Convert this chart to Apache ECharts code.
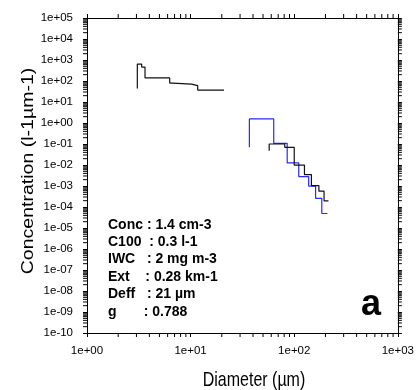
<!DOCTYPE html>
<html>
<head>
<meta charset="utf-8">
<script src="https://cdn.jsdelivr.net/npm/echarts@6/dist/echarts.min.js"></script>
<style>
html, body { margin: 0; padding: 0; background: #fff; }
#main { width: 417px; height: 390px; }
</style>
</head>
<body>
<div id="main"></div>
<script>
// small particles (black, left)
var smallEdges = [3.06, 3.37, 3.63, 6.28, 6.7, 10.2, 11.7, 21];
var smallStart = 44;
var smallConc = [637, 460, 140, 80, 71, 60, 37];

// large particles, probe 1 (black, right)
var largeEdges = [57.3, 81, 100, 125.5, 146.5, 173, 194, 214];
var largeStart = 0.048;
var largeConc = [0.1, 0.0695, 0.0099, 0.0035, 0.00105, 0.00057, 0.000197];

// large particles, probe 2 (blue)
var blueEdges = [36.9, 63.4, 85.5, 110.6, 137.8, 160.7, 184.5, 209];
var blueStart = 0.07;
var blueConc = [1.56, 0.108, 0.0125, 0.0028, 0.00099, 0.00026, 0.000049];

var infoLines = [
    'Conc : 1.4 cm-3',
    'C100  : 0.3 l-1',
    'IWC   : 2 mg m-3',
    'Ext    : 0.28 km-1',
    'Deff   : 21 \u00b5m',
    'g       : 0.788'
];

var xMin = 1, xMax = 1000, yMin = 1e-10, yMax = 1e5;

function stepPoints(edges, start, conc) {
    var pts = [[edges[0], start]];
    for (var i = 0; i < conc.length; i++) {
        pts.push([edges[i], conc[i]]);
        pts.push([edges[i + 1], conc[i]]);
    }
    return pts;
}

function expLabel(v) {
    var e = Math.round(Math.log10(v));
    var a = Math.abs(e);
    return '1e' + (e < 0 ? '-' : '+') + (a < 10 ? '0' : '') + a;
}

// minor tick positions 2..9 per decade
function minorTicks(lo, hi) {
    var out = [];
    for (var k = lo; k < hi; k++) {
        for (var m = 2; m <= 9; m++) out.push(m * Math.pow(10, k));
    }
    return out;
}
var xMinor = minorTicks(0, 3).map(function (d) { return [d, yMin]; });
var yMinor = minorTicks(-10, 5).map(function (c) { return [xMin, c]; });

var chart = echarts.init(document.getElementById('main'));

var labelStyle = { color: '#000', fontSize: 11.5, fontFamily: 'Arial, Liberation Sans' };
var lineAx = { show: true, lineStyle: { color: '#000', width: 1 } };
var tickAx = { show: true, inside: false, length: 4, lineStyle: { color: '#000', width: 1 } };

var option = {
    animation: false,
    grid: { left: 87, right: 15, top: 18, bottom: 57 },
    xAxis: [{
        type: 'log', logBase: 10, min: xMin, max: xMax, interval: 1,
        axisLine: lineAx, axisTick: tickAx, splitLine: { show: false },
        axisLabel: Object.assign({ margin: 12, formatter: expLabel }, labelStyle)
    }, {
        type: 'log', logBase: 10, min: xMin, max: xMax, interval: 1, position: 'top',
        axisLine: lineAx, axisTick: tickAx, splitLine: { show: false },
        axisLabel: { show: false }
    }],
    yAxis: [{
        type: 'log', logBase: 10, min: yMin, max: yMax, interval: 1,
        axisLine: lineAx, axisTick: tickAx, splitLine: { show: false },
        axisLabel: Object.assign({ margin: 14, padding: [0, 0, 6, 0], formatter: expLabel }, labelStyle)
    }, {
        type: 'log', logBase: 10, min: yMin, max: yMax, interval: 1, position: 'right',
        axisLine: lineAx, axisTick: tickAx, splitLine: { show: false },
        axisLabel: { show: false }
    }],
    graphic: [{
        type: 'text', left: 108, top: 216,
        style: {
            text: infoLines.join('\n'), fill: '#000', lineHeight: 17.4,
            font: 'bold 14px Arial, Liberation Sans'
        }
    }, {
        type: 'text', x: 371, y: 305,
        style: {
            text: 'a', fill: '#000', align: 'center', verticalAlign: 'middle',
            font: 'bold 36px Arial, Liberation Sans'
        }
    }, {
        type: 'text', x: 254, y: 381, scaleY: 1.22,
        style: {
            text: 'Diameter (\u00b5m)', fill: '#000', align: 'center', verticalAlign: 'middle',
            font: '16px Arial, Liberation Sans'
        }
    }, {
        type: 'text', x: 29, y: 171, rotation: Math.PI / 2, scaleX: 1.22,
        style: {
            text: 'Concentration (l-1\u00b5m-1)', fill: '#000', align: 'center', verticalAlign: 'middle',
            font: '16px Arial, Liberation Sans'
        }
    }],
    series: [{
        type: 'line', data: stepPoints(smallEdges, smallStart, smallConc),
        showSymbol: false, lineStyle: { color: '#111', width: 1.2 }
    }, {
        type: 'line', data: stepPoints(blueEdges, blueStart, blueConc),
        showSymbol: false, lineStyle: { color: '#2a2af5', width: 1.2 }
    }, {
        type: 'line', data: stepPoints(largeEdges, largeStart, largeConc),
        showSymbol: false, lineStyle: { color: '#111', width: 1.2 }
    }, {
        // minor ticks on bottom and top axes
        type: 'custom', data: xMinor, clip: false, silent: true,
        renderItem: function (params, api) {
            var b = api.coord([api.value(0), yMin]);
            var t = api.coord([api.value(0), yMax]);
            var st = { stroke: '#000', lineWidth: 1 };
            return { type: 'group', children: [
                { type: 'line', shape: { x1: b[0], y1: b[1], x2: b[0], y2: b[1] + 4 }, style: st },
                { type: 'line', shape: { x1: t[0], y1: t[1], x2: t[0], y2: t[1] - 4 }, style: st }
            ] };
        }
    }, {
        // minor ticks on left and right axes
        type: 'custom', data: yMinor, clip: false, silent: true,
        renderItem: function (params, api) {
            var l = api.coord([xMin, api.value(1)]);
            var r = api.coord([xMax, api.value(1)]);
            var st = { stroke: '#000', lineWidth: 1 };
            return { type: 'group', children: [
                { type: 'line', shape: { x1: l[0], y1: l[1], x2: l[0] - 4, y2: l[1] }, style: st },
                { type: 'line', shape: { x1: r[0], y1: r[1], x2: r[0] + 4, y2: r[1] }, style: st }
            ] };
        }
    }]
};

chart.setOption(option);
</script>
</body>
</html>
